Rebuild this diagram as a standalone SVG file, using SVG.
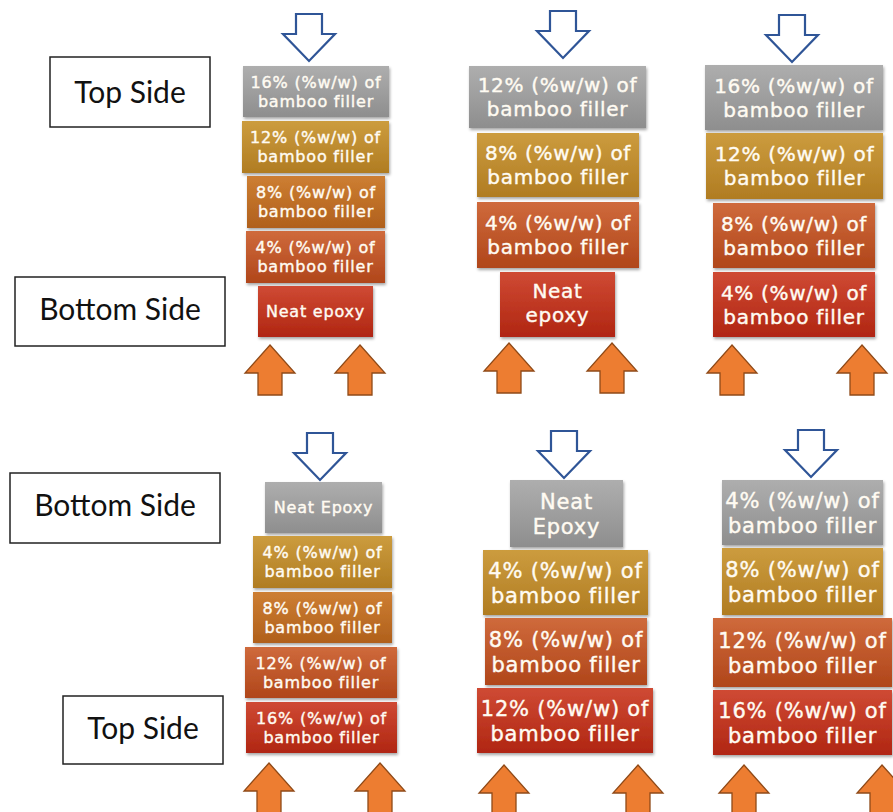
<svg xmlns="http://www.w3.org/2000/svg" width="893" height="812" viewBox="0 0 893 812">
<defs>
<linearGradient id="gGray" x1="0" y1="0" x2="0" y2="1"><stop offset="0" stop-color="#aeaeae"/><stop offset="1" stop-color="#8e8e8e"/></linearGradient>
<linearGradient id="gGold" x1="0" y1="0" x2="0" y2="1"><stop offset="0" stop-color="#cc9c3e"/><stop offset="1" stop-color="#b07c22"/></linearGradient>
<linearGradient id="gOrange" x1="0" y1="0" x2="0" y2="1"><stop offset="0" stop-color="#cd7e32"/><stop offset="1" stop-color="#b0601c"/></linearGradient>
<linearGradient id="gOrRed" x1="0" y1="0" x2="0" y2="1"><stop offset="0" stop-color="#cf6a3c"/><stop offset="1" stop-color="#b0461a"/></linearGradient>
<linearGradient id="gRed" x1="0" y1="0" x2="0" y2="1"><stop offset="0" stop-color="#cf4a34"/><stop offset="1" stop-color="#b02612"/></linearGradient>
<filter id="sh" x="-10%" y="-10%" width="125%" height="130%"><feDropShadow dx="1" dy="2" stdDeviation="1.5" flood-color="#000" flood-opacity="0.35"/></filter>
<path id="blueArrow" d="M-13,-47 H13 V-27 H26 L0,0 L-26,-27 H-13 Z"/>
<path id="orangeArrow" d="M0,0 L25,28 H12 V50 H-12 V28 H-25 Z"/>
</defs>
<style>
.lbl rect{fill:#fff;stroke:#222;stroke-width:1.5}
.lbl text{font-family:Lato,"Liberation Sans",sans-serif;font-size:30px;fill:#111;text-anchor:middle}
.box rect{filter:url(#sh)}
.box text{font-family:"DejaVu Sans","Liberation Sans",sans-serif;fill:#fffbf2;stroke:#fffbf2;stroke-width:0.4;text-anchor:middle}
.s{font-size:16px;letter-spacing:0.8px}
.m{font-size:20px;letter-spacing:0.7px}
.l{font-size:21px;letter-spacing:0.8px}
.gray{fill:url(#gGray)}
.gold{fill:url(#gGold)}
.orange{fill:url(#gOrange)}
.orred{fill:url(#gOrRed)}
.red{fill:url(#gRed)}
.down{fill:#fff;stroke:#2f5597;stroke-width:2.2}
.up{fill:#ed7d31;stroke:#8f4a18;stroke-width:1.3}
</style>
<rect width="893" height="812" fill="#fff"/>

<!-- side labels -->
<g id="label-top-side-1" class="lbl"><rect x="50" y="57" width="160" height="70"/><text x="130" y="103">Top Side</text></g>
<g id="label-bottom-side-1" class="lbl"><rect x="15" y="277" width="210" height="69"/><text x="120" y="320">Bottom Side</text></g>
<g id="label-bottom-side-2" class="lbl"><rect x="10" y="473" width="210" height="70"/><text x="115" y="516">Bottom Side</text></g>
<g id="label-top-side-2" class="lbl"><rect x="63" y="696" width="160" height="68"/><text x="143" y="739">Top Side</text></g>

<!-- stack A (top-left) -->
<g id="a1" class="box"><rect class="gray" x="243" y="66" width="146" height="51"/><text class="s" x="316" y="87.8">16% (%w/w) of</text><text class="s" x="316" y="106.8">bamboo filler</text></g>
<g id="a2" class="box"><rect class="gold" x="242" y="121" width="147" height="52"/><text class="s" x="315.5" y="143.3">12% (%w/w) of</text><text class="s" x="315.5" y="162.3">bamboo filler</text></g>
<g id="a3" class="box"><rect class="orange" x="247" y="176" width="138" height="52"/><text class="s" x="316" y="198.3">8% (%w/w) of</text><text class="s" x="316" y="217.3">bamboo filler</text></g>
<g id="a4" class="box"><rect class="orred" x="246" y="231" width="139" height="52"/><text class="s" x="315.5" y="253.3">4% (%w/w) of</text><text class="s" x="315.5" y="272.3">bamboo filler</text></g>
<g id="a5" class="box"><rect class="red" x="258" y="286" width="115" height="51"/><text class="s" x="315.5" y="317">Neat epoxy</text></g>

<!-- stack B (top-middle) -->
<g id="b1" class="box"><rect class="gray" x="469" y="66" width="177" height="62"/><text class="m" x="557.5" y="92.3">12% (%w/w) of</text><text class="m" x="557.5" y="116.3">bamboo filler</text></g>
<g id="b2" class="box"><rect class="gold" x="477" y="133" width="162" height="64"/><text class="m" x="558" y="160.3">8% (%w/w) of</text><text class="m" x="558" y="184.3">bamboo filler</text></g>
<g id="b3" class="box"><rect class="orred" x="477" y="202" width="162" height="66"/><text class="m" x="558" y="230.3">4% (%w/w) of</text><text class="m" x="558" y="254.3">bamboo filler</text></g>
<g id="b4" class="box"><rect class="red" x="500" y="272" width="115" height="65"/><text class="m" x="557.5" y="298">Neat</text><text class="m" x="557.5" y="322">epoxy</text></g>

<!-- stack C (top-right) -->
<g id="c1" class="box"><rect class="gray" x="705" y="65" width="178" height="65"/><text class="m" x="794" y="92.8">16% (%w/w) of</text><text class="m" x="794" y="116.8">bamboo filler</text></g>
<g id="c2" class="box"><rect class="gold" x="706" y="133" width="177" height="66"/><text class="m" x="794.5" y="161.3">12% (%w/w) of</text><text class="m" x="794.5" y="185.3">bamboo filler</text></g>
<g id="c3" class="box"><rect class="orred" x="713" y="203" width="162" height="65"/><text class="m" x="794" y="230.8">8% (%w/w) of</text><text class="m" x="794" y="254.8">bamboo filler</text></g>
<g id="c4" class="box"><rect class="red" x="713" y="272" width="162" height="65"/><text class="m" x="794" y="299.8">4% (%w/w) of</text><text class="m" x="794" y="323.8">bamboo filler</text></g>

<!-- stack D (bottom-left) -->
<g id="d1" class="box"><rect class="gray" x="265" y="482" width="117" height="51"/><text class="s" x="323.5" y="513.3">Neat Epoxy</text></g>
<g id="d2" class="box"><rect class="gold" x="253" y="536" width="139" height="52"/><text class="s" x="322.5" y="558.3">4% (%w/w) of</text><text class="s" x="322.5" y="577.3">bamboo filler</text></g>
<g id="d3" class="box"><rect class="orange" x="253" y="592" width="139" height="51"/><text class="s" x="322.5" y="613.8">8% (%w/w) of</text><text class="s" x="322.5" y="632.8">bamboo filler</text></g>
<g id="d4" class="box"><rect class="orred" x="245" y="647" width="152" height="51"/><text class="s" x="321" y="668.8">12% (%w/w) of</text><text class="s" x="321" y="687.8">bamboo filler</text></g>
<g id="d5" class="box"><rect class="red" x="246" y="702" width="151" height="51"/><text class="s" x="321.5" y="723.8">16% (%w/w) of</text><text class="s" x="321.5" y="742.8">bamboo filler</text></g>

<!-- stack E (bottom-middle) -->
<g id="e1" class="box"><rect class="gray" x="510" y="480" width="113" height="67"/><text class="l" x="566.5" y="508.6">Neat</text><text class="l" x="566.5" y="533.6">Epoxy</text></g>
<g id="e2" class="box"><rect class="gold" x="483" y="550" width="165" height="65"/><text class="l" x="565.5" y="577.7">4% (%w/w) of</text><text class="l" x="565.5" y="602.7">bamboo filler</text></g>
<g id="e3" class="box"><rect class="orred" x="485" y="618" width="162" height="67"/><text class="l" x="566" y="646.7">8% (%w/w) of</text><text class="l" x="566" y="671.7">bamboo filler</text></g>
<g id="e4" class="box"><rect class="red" x="477" y="688" width="176" height="65"/><text class="l" x="565" y="715.7">12% (%w/w) of</text><text class="l" x="565" y="740.7">bamboo filler</text></g>

<!-- stack F (bottom-right) -->
<g id="f1" class="box"><rect class="gray" x="722" y="480" width="161" height="65"/><text class="l" x="802.5" y="507.7">4% (%w/w) of</text><text class="l" x="802.5" y="532.7">bamboo filler</text></g>
<g id="f2" class="box"><rect class="gold" x="722" y="548" width="161" height="67"/><text class="l" x="802.5" y="576.7">8% (%w/w) of</text><text class="l" x="802.5" y="601.7">bamboo filler</text></g>
<g id="f3" class="box"><rect class="orred" x="713" y="618" width="179" height="69"/><text class="l" x="802.5" y="647.7">12% (%w/w) of</text><text class="l" x="802.5" y="672.7">bamboo filler</text></g>
<g id="f4" class="box"><rect class="red" x="713" y="690" width="179" height="65"/><text class="l" x="802.5" y="717.7">16% (%w/w) of</text><text class="l" x="802.5" y="742.7">bamboo filler</text></g>

<!-- arrows -->
<g id="connectors">
<use href="#blueArrow" class="down" x="309" y="61"/>
<use href="#blueArrow" class="down" x="563" y="58"/>
<use href="#blueArrow" class="down" x="792" y="62"/>
<use href="#blueArrow" class="down" x="320" y="480"/>
<use href="#blueArrow" class="down" x="564" y="478"/>
<use href="#blueArrow" class="down" x="811" y="477"/>
<use href="#orangeArrow" class="up" x="270" y="345"/>
<use href="#orangeArrow" class="up" x="360" y="345"/>
<use href="#orangeArrow" class="up" x="509" y="343"/>
<use href="#orangeArrow" class="up" x="612" y="343"/>
<use href="#orangeArrow" class="up" x="732" y="345"/>
<use href="#orangeArrow" class="up" x="862" y="345"/>
<use href="#orangeArrow" class="up" x="269" y="763"/>
<use href="#orangeArrow" class="up" x="380" y="763"/>
<use href="#orangeArrow" class="up" x="504" y="765"/>
<use href="#orangeArrow" class="up" x="638" y="765"/>
<use href="#orangeArrow" class="up" x="744" y="765"/>
<use href="#orangeArrow" class="up" x="882" y="765"/>
</g>
</svg>
